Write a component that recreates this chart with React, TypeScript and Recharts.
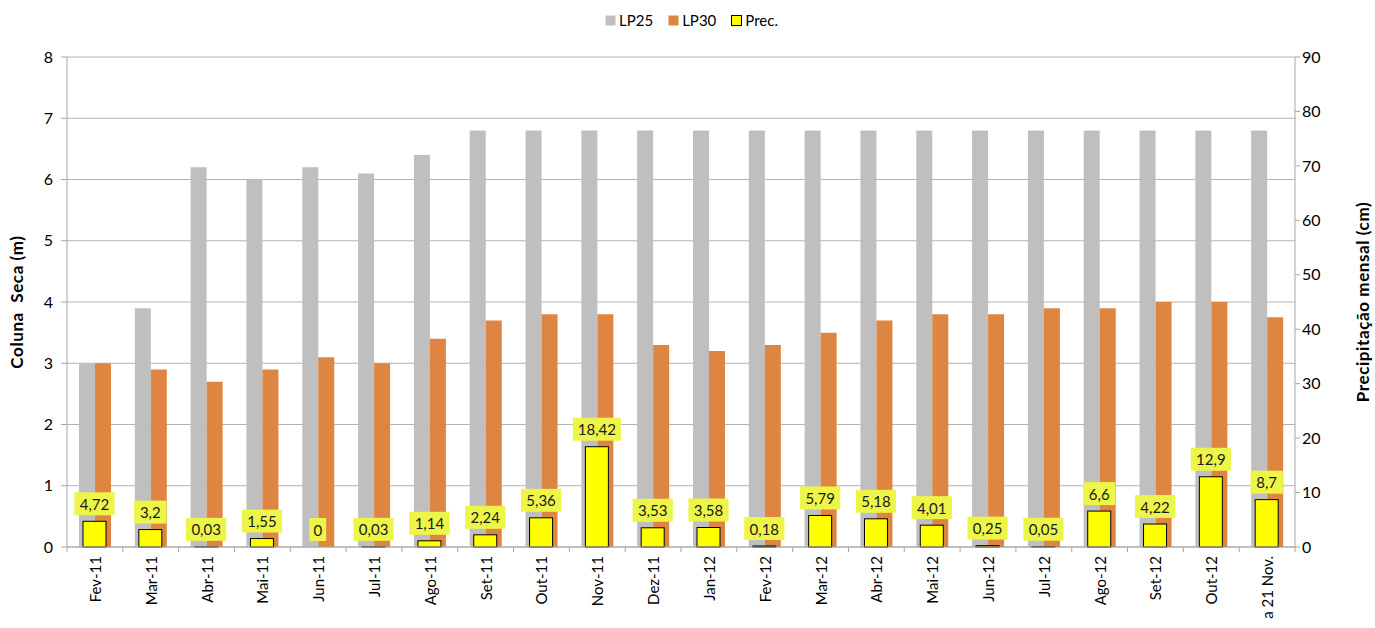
import React from "react";
import { Bar, BarChart, CartesianGrid, XAxis, YAxis } from "recharts";

const MONTHS = [
  "Fev-11", "Mar-11", "Abr-11", "Mai-11", "Jun-11", "Jul-11", "Ago-11", "Set-11", "Out-11", "Nov-11", "Dez-11",
  "Jan-12", "Fev-12", "Mar-12", "Abr-12", "Mai-12", "Jun-12", "Jul-12", "Ago-12", "Set-12", "Out-12", "a 21 Nov.",
];
const LP25 = [3.0, 3.9, 6.2, 6.0, 6.2, 6.1, 6.4, 6.8, 6.8, 6.8, 6.8, 6.8, 6.8, 6.8, 6.8, 6.8, 6.8, 6.8, 6.8, 6.8, 6.8, 6.8];
const LP30 = [3.0, 2.9, 2.7, 2.9, 3.1, 3.0, 3.4, 3.7, 3.8, 3.8, 3.3, 3.2, 3.3, 3.5, 3.7, 3.8, 3.8, 3.9, 3.9, 4.0, 4.0, 3.75];
const PREC = [4.72, 3.2, 0.03, 1.55, 0, 0.03, 1.14, 2.24, 5.36, 18.42, 3.53, 3.58, 0.18, 5.79, 5.18, 4.01, 0.25, 0.05, 6.6, 4.22, 12.9, 8.7];
const LEFT_TICKS = [0, 1, 2, 3, 4, 5, 6, 7, 8];
const RIGHT_TICKS = [0, 10, 20, 30, 40, 50, 60, 70, 80, 90];

const data = MONTHS.map((m, i) => ({ month: m, lp25: LP25[i], lp30: LP30[i], prec: PREC[i] }));

const FONT = "Lato, 'Open Sans', sans-serif";
const GRAY = "#bfbfbf";
const ORANGE = "#dd8541";
const AXIS = "#a6a6a6";
const BAND = 1228 / MONTHS.length;

const fmt = (v: number) => String(v).replace(".", ",");

const MonthTick = ({ x, y, payload, index }: any) => (
  <g>
    <line x1={x - BAND / 2} x2={x - BAND / 2} y1={y - 8} y2={y - 3} stroke={AXIS} />
    {index === MONTHS.length - 1 && (
      <line x1={x + BAND / 2} x2={x + BAND / 2} y1={y - 8} y2={y - 3} stroke={AXIS} />
    )}
    <text
      x={x}
      y={y}
      transform={`rotate(-90, ${x}, ${y})`}
      textAnchor="end"
      dominantBaseline="central"
      dx={-1}
      fontSize={15}
      fill="#000"
      fontFamily={FONT}
    >
      {payload.value}
    </text>
  </g>
);

// bar + its value box, so that a zero-height bar still gets its label
const PrecShape = (props: any) => {
  const { x, y, width, height, value } = props;
  const v = Array.isArray(value) ? value[1] - value[0] : value;
  const txt = fmt(v);
  const w = txt.length * 7.8 + 9;
  const cx = x + width / 2;
  return (
    <g>
      {height > 0 && <rect x={x} y={y} width={width} height={height} fill="#ffff00" stroke="#000" strokeWidth={1} />}
      <rect x={cx - w / 2} y={y - 29} width={w} height={23} fill="#edf548" />
      <text x={cx} y={y - 17.5} textAnchor="middle" dominantBaseline="central" fontSize={15} fill="#1a1a1a" fontFamily={FONT}>
        {txt}
      </text>
    </g>
  );
};

const LEGEND = [
  { name: "LP25", fill: GRAY, stroke: "none" },
  { name: "LP30", fill: ORANGE, stroke: "none" },
  { name: "Prec.", fill: "#ffff00", stroke: "#000" },
];

const titleStyle = {
  fontWeight: "bold",
  fontSize: 17,
  letterSpacing: 0.6,
  fill: "#000",
  fontFamily: FONT,
  textAnchor: "middle",
};

export default function App() {
  return (
    <div style={{ position: "absolute", left: 0, top: 0, width: 1375, height: 628, background: "#fff" }}>
      <div
        style={{
          position: "absolute",
          top: 11,
          left: 0,
          width: 1375,
          display: "flex",
          justifyContent: "center",
          gap: 15,
          fontFamily: FONT,
          fontSize: 15,
          color: "#000",
          paddingLeft: 8,
          boxSizing: "border-box",
        }}
      >
        {LEGEND.map((it) => (
          <div key={it.name} style={{ display: "flex", alignItems: "center", gap: 3 }}>
            <svg width={11} height={11}>
              <rect x={0.5} y={0.5} width={10} height={10} fill={it.fill} stroke={it.stroke} />
            </svg>
            <span>{it.name}</span>
          </div>
        ))}
      </div>
      <BarChart
        width={1375}
        height={628}
        data={data}
        margin={{ top: 57, right: 0, bottom: 0, left: 0 }}
        barGap={0}
      >
        <CartesianGrid xAxisId="cat" yAxisId="left" vertical={false} stroke="#b3b3b3" />
        <XAxis
          xAxisId="cat"
          dataKey="month"
          interval={0}
          height={81}
          tickLine={false}
          stroke={AXIS}
          tick={<MonthTick />}
        />
        <XAxis xAxisId="prec" dataKey="month" hide />
        <YAxis
          yAxisId="left"
          domain={[0, 8]}
          ticks={LEFT_TICKS}
          width={67}
          stroke={AXIS}
          tickSize={6}
          tick={{ fill: "#000", fontSize: 16, fontFamily: FONT, dx: -6 }}
          label={{
            value: "Coluna\u00a0\u00a0Seca (m)",
            angle: -90,
            position: "insideLeft",
            offset: 17,
            style: titleStyle,
          }}
        />
        <YAxis
          yAxisId="right"
          orientation="right"
          domain={[0, 90]}
          ticks={RIGHT_TICKS}
          width={80}
          stroke={AXIS}
          tickSize={5}
          tick={{ fill: "#000", fontSize: 16, fontFamily: FONT }}
          label={{
            value: "Precipitação mensal (cm)",
            angle: -90,
            position: "insideRight",
            offset: 12,
            style: titleStyle,
          }}
        />
        <Bar xAxisId="cat" yAxisId="left" dataKey="lp25" name="LP25" fill={GRAY} barSize={16} isAnimationActive={false} />
        <Bar xAxisId="cat" yAxisId="left" dataKey="lp30" name="LP30" fill={ORANGE} barSize={16} isAnimationActive={false} />
        <Bar
          xAxisId="prec"
          yAxisId="right"
          dataKey="prec"
          name="Prec."
          fill="#ffff00"
          stroke="#000"
          barSize={23}
          shape={<PrecShape />}
          isAnimationActive={false}
        />
      </BarChart>
    </div>
  );
}
